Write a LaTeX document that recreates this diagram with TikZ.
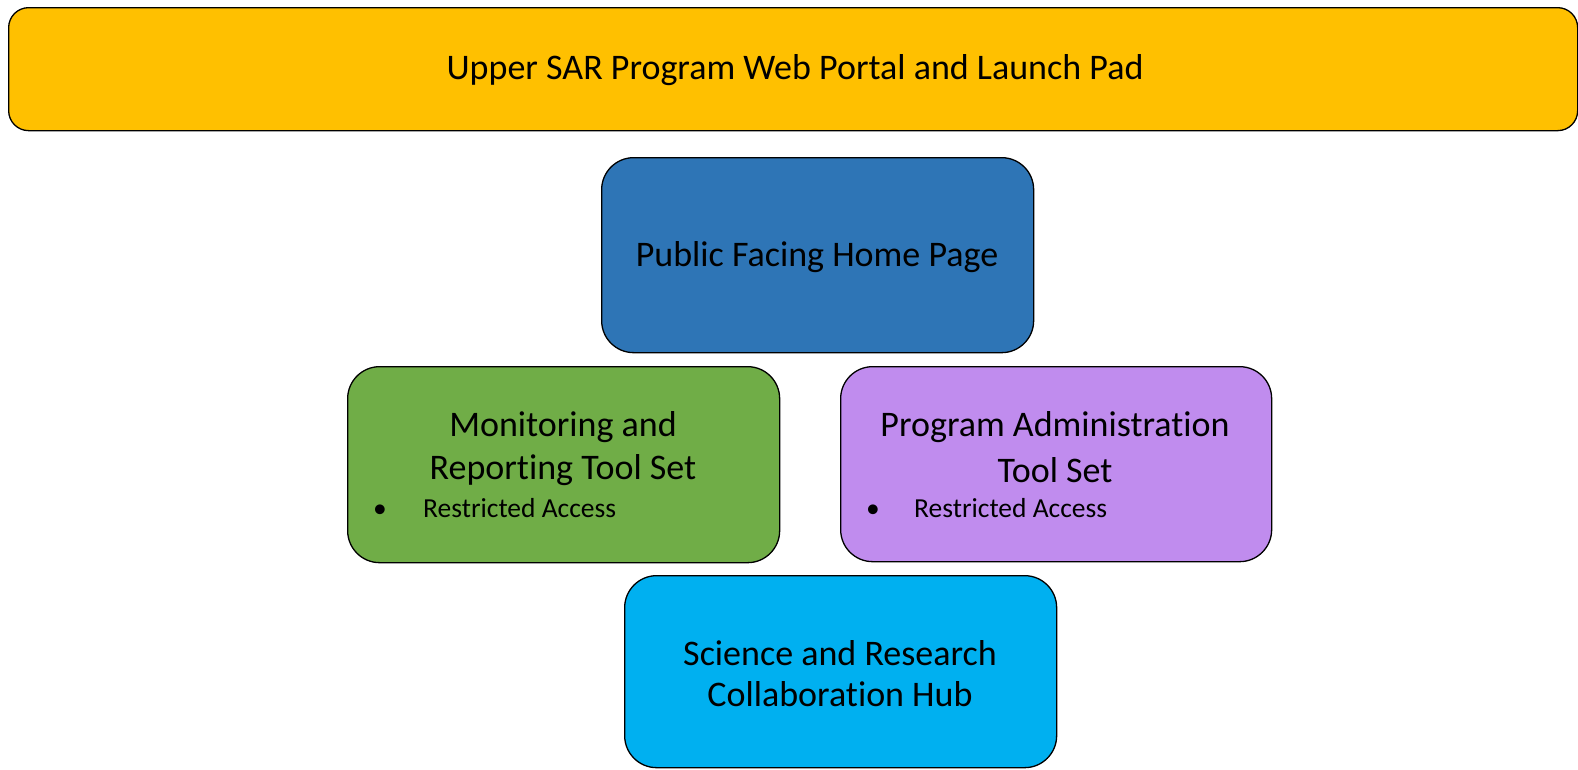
\documentclass[tikz,border=0pt]{standalone}
\usepackage{fontspec}
\setmainfont[Ligatures={NoCommon}]{Carlito}
\definecolor{cOrange}{HTML}{FFC000}
\definecolor{cBlue}{HTML}{2E75B6}
\definecolor{cGreen}{HTML}{70AD47}
\definecolor{cPurple}{HTML}{C08CEE}
\definecolor{cCyan}{HTML}{00B0F0}
\begin{document}
\begin{tikzpicture}[x=1pt,y=-1pt,
  box/.style={draw=black,line width=1.3pt,rounded corners=#1,inner sep=0pt,anchor=north west},
  big/.style={font=\fontsize{36}{43}\selectfont,inner sep=0pt,anchor=center},
  small/.style={font=\fontsize{27.5}{32}\selectfont,inner sep=0pt,anchor=base west}]
\useasboundingbox (0,0) rectangle (1578,769);
% boxes
\node[box=20pt,fill=cOrange,minimum width=1569pt,minimum height=123pt] (portal) at (8,7) {};
\node[box=32pt,fill=cBlue,minimum width=432pt,minimum height=195pt] (home) at (601,157) {};
\node[box=32pt,fill=cGreen,minimum width=432pt,minimum height=196pt] (mon) at (347,366) {};
\node[box=32pt,fill=cPurple,minimum width=431pt,minimum height=195pt] (adm) at (840,366) {};
\node[box=32pt,fill=cCyan,minimum width=432pt,minimum height=192pt] (sci) at (624,575) {};
% texts
\node[big] (tportal) at (795,70) {Upper SAR Program Web Portal and Launch Pad};
\node[big] (thome) at (817,257) {Public Facing Home Page};
\node[big] (tmon1) at (563,427) {Monitoring and};
\node[big] (tmon2) at (563,470) {Reporting Tool Set};
\node[small] (bmon) at (373,517) {\textbullet};
\node[small] (rmon) at (423,517) {Restricted Access};
\node[big] (tadm1) at (1055,427) {Program Administration};
\node[big] (tadm2) at (1055,470) {Tool Set};
\node[small] (badm) at (866,517) {\textbullet};
\node[small] (radm) at (914,517) {Restricted Access};
\node[big] (tsci1) at (840,653) {Science and Research};
\node[big] (tsci2) at (840,694) {Collaboration Hub};
\end{tikzpicture}
\end{document}
